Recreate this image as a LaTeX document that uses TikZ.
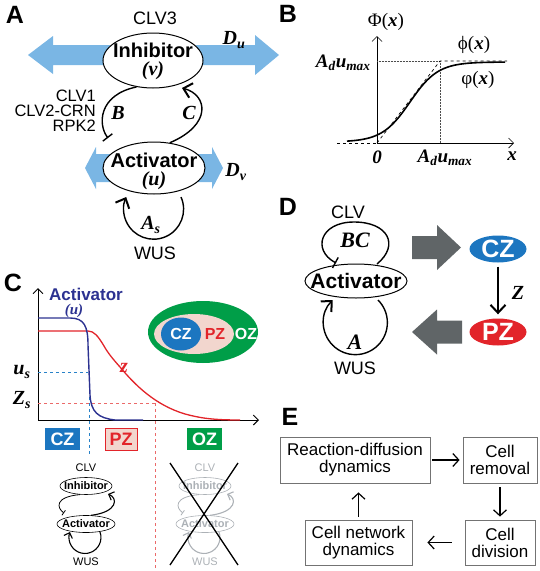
\documentclass[tikz,border=0pt]{standalone}
\usepackage{fontspec}
\setmainfont{Liberation Sans}
\newfontfamily\serif{Liberation Serif}
\usetikzlibrary{arrows.meta,shapes.geometric}
\definecolor{lblue}{RGB}{122,182,228}
\definecolor{czblue}{RGB}{28,118,192}
\definecolor{pzred}{RGB}{226,36,42}
\definecolor{ozgreen}{RGB}{0,158,72}
\definecolor{pzpink}{RGB}{242,214,206}
\definecolor{navy}{RGB}{44,50,145}
\definecolor{darkgray}{RGB}{96,101,103}
\definecolor{ghost}{RGB}{172,177,182}
\definecolor{dblue}{RGB}{40,130,200}
\definecolor{dred}{RGB}{235,105,105}
\newcommand{\fs}[1]{\fontsize{#1}{#1}\selectfont}
\newcommand{\vb}[1]{{\serif\bfseries\itshape #1}}
\newcommand{\minidiag}[3]{%
\begin{scope}[xshift=#2, color=#3]
\node[font=\fs{11}, text=#3] (#1clv) at (86,468) {CLV};
\node[mell, draw=#3, minimum width=52, minimum height=17] (#1inh) at (86,486) {};
\node[font=\fs{11}\bfseries, text=#3] (#1inhT) at (86,486) {Inhibitor};
\node[mell, draw=#3, minimum width=58, minimum height=17] (#1act) at (86,524) {};
\node[font=\fs{11}\bfseries, text=#3] (#1actT) at (86,524) {Activator};
\draw[draw=#3, line width=0.8, -{Bar[width=6pt]}] (#1inh.235) .. controls (54,497) and (57,508) .. (64,513);
\draw[draw=#3, line width=1.1, -{Straight Barb[length=4.5pt,width=9pt]}] (#1act.60) .. controls (118,512) and (118,498) .. (108,494);
\draw[draw=#3, line width=1.1, -{Straight Barb[length=4.5pt,width=9pt]}] (100,532) arc[start angle=-20, end angle=200, radius=16];
\node[font=\fs{11}, text=#3] (#1wus) at (86,562) {WUS};
\end{scope}}
\begin{document}
\begin{tikzpicture}[x=1pt,y=-1pt,
  ell/.style={ellipse, draw=black, fill=white, line width=1, inner sep=0},
  mell/.style={ellipse, fill=white, line width=0.6, inner sep=0},
  plabel/.style={font=\fs{25}\bfseries},
  arc/.style={line width=1.4},
  barb/.style={-{Straight Barb[length=8pt,width=15pt,line width=2pt]}},
  ebox/.style={draw=black!55, line width=0.8, minimum height=46, align=center, font=\fs{17}, inner sep=2},
  earrow/.style={line width=1.2, -{Straight Barb[length=6pt,width=13pt]}}
]
\useasboundingbox (0,0) rectangle (540,571);

% ================= Panel A =================
\node[plabel] (labA) at (15,15) {A};
\fill[lblue] (110,45) -- (53,45) -- (53,36) -- (28,55) -- (53,74) -- (53,65) -- (110,65) -- cycle;
\fill[lblue] (196,45) -- (255,45) -- (255,35) -- (279,55) -- (255,75) -- (255,65) -- (196,65) -- cycle;
\fill[lblue] (120,154) -- (96,154) -- (96,147) -- (85,168) -- (96,189) -- (96,182) -- (120,182) -- cycle;
\fill[lblue] (188,154) -- (212,154) -- (212,147) -- (223,168) -- (212,189) -- (212,182) -- (188,182) -- cycle;
\node[ell, minimum width=100, minimum height=55] (inh) at (153,60.5) {};
\node[font=\fs{20}\bfseries] (inhT) at (153,50) {Inhibitor};
\node[font=\fs{20}] (inhV) at (153,71) {\vb{(v)}};
\node[font=\fs{18}] (clv3) at (155,18) {CLV3};
\node[font=\fs{20}] (Du) at (234,40) {\vb{D\textsubscript{u}}};
\node[ell, minimum width=102, minimum height=52] (act) at (154,168) {};
\node[font=\fs{20}\bfseries] (actT) at (154,160) {Activator};
\node[font=\fs{20}] (actU) at (154,181) {\vb{(u)}};
\node[font=\fs{20}] (Dv) at (236,172) {\vb{D\textsubscript{v}}};
\node[font=\fs{16.5}, anchor=east, inner sep=1] (clv1) at (97,96) {CLV1};
\node[font=\fs{16.5}, anchor=east, inner sep=1] (clv2) at (97,111) {CLV2-CRN};
\node[font=\fs{16.5}, anchor=east, inner sep=1] (rpk2) at (97,126) {RPK2};
\draw[arc, -{Bar[width=12pt]}] (inh.238) .. controls (98,95) and (98,125) .. (108,138);
\node[font=\fs{20}] (Blab) at (118,113) {\vb{B}};
\draw[arc, barb] (act.58) .. controls (212,125) and (208,95) .. (182,88);
\node[font=\fs{20}] (Clab) at (189,113) {\vb{C}};
\draw[arc, barb] (181,197) arc[start angle=-24, end angle=204, radius=30];
\node[font=\fs{20}] (As) at (151,225) {\vb{A\textsubscript{s}}};
\node[font=\fs{18}] (wusA) at (155,253) {WUS};

% ================= Panel B =================
\node[plabel] (labB) at (288,14) {B};
\draw[line width=0.7, -{Straight Barb[length=5pt,width=10pt]}] (377,143) -- (377,36);
\draw[line width=0.7, -{Straight Barb[length=5pt,width=10pt]}] (377,143) -- (514,143);
\draw[line width=0.7, dashed] (337,143) -- (377,143);
\draw[line width=0.5, densely dotted, black!70] (377,61) -- (440,61) -- (440,143);
\draw[line width=0.7, dashed] (377,143) -- (440,61) -- (507,61);
\draw[line width=1.6] plot[domain=347:505, samples=60] (\x, {102-40*tanh((\x-410)/28)});
\node[font=\fs{19}] (Phi) at (386,22) {{\serif Φ(}\vb{x}{\serif)}};
\node[font=\fs{19}, anchor=east] (Adl) at (374,63) {\vb{A\textsubscript{d}u\textsubscript{max}}};
\node[font=\fs{19}] (phi1) at (474,45) {{\serif ϕ(}\vb{x}{\serif)}};
\node[font=\fs{19}] (phi2) at (478,80) {{\serif φ(}\vb{x}{\serif)}};
\node[font=\fs{19}] (zero) at (377,157) {\vb{0}};
\node[font=\fs{19}] (Adb) at (445,158) {\vb{A\textsubscript{d}u\textsubscript{max}}};
\node[font=\fs{19}] (xl) at (512,156) {\vb{x}};

% ================= Panel C =================
\node[plabel] (labC) at (13,283) {C};
\draw[line width=1, -{Straight Barb[length=5pt,width=10pt]}] (38,420) -- (38,288);
\draw[line width=1, -{Straight Barb[length=5pt,width=10pt]}] (38,420) -- (259,420);
\node[font=\fs{17}\bfseries, text=navy] (actC) at (86,294) {Activator};
\node[font=\fs{15}, text=navy] (actCu) at (74,311) {\vb{(u)}};
\draw[dblue, line width=0.9, dashed] (38,372) -- (88,372);
\draw[dblue, line width=0.9, dashed] (89,385) -- (89,454);
\draw[dred, line width=0.9, dashed] (38,403) -- (155,403);
\draw[dred, line width=0.9, dashed] (155,403) -- (155,571);
\draw[pzred, line width=1.3] (38,331) -- (88,331) .. controls (94,331) and (98,336) .. (104,346) .. controls (108,353) and (112,358) .. (120,367) .. controls (135,385) and (155,405) .. (185,414) .. controls (200,418) and (212,420) .. (240,420);
\draw[navy, line width=1.4] (38,318) -- (70,318) .. controls (84,318) and (88,326) .. (88,345) -- (90,395) .. controls (91,412) and (98,418) .. (115,420) -- (143,420);
\node[font=\fs{20}, text=pzred] (zl) at (124,368) {\vb{z}};
\node[font=\fs{20}] (us) at (22,372) {\vb{u\textsubscript{s}}};
\node[font=\fs{20}] (Zs) at (22,400) {\vb{Z\textsubscript{s}}};
\node[fill=czblue, text=white, font=\fs{18}\bfseries, minimum width=35, minimum height=22, inner sep=0] (czbox) at (62.5,439) {CZ};
\node[fill=pzpink, draw=pzred, line width=0.8, text=pzred, font=\fs{18}\bfseries, minimum width=32, minimum height=22, inner sep=0] (pzbox) at (121,439) {PZ};
\node[fill=ozgreen, text=white, font=\fs{18}\bfseries, minimum width=35, minimum height=22, inner sep=0] (ozbox) at (204.5,439) {OZ};
\node[ellipse, fill=ozgreen, minimum width=110, minimum height=62, inner sep=0] (ozell) at (203,332) {};
\node[ellipse, fill=pzpink, minimum width=80, minimum height=40, inner sep=0] (pzell) at (194,334) {};
\node[ellipse, fill=czblue, minimum width=40, minimum height=33, inner sep=0] (czell) at (181,334) {};
\node[font=\fs{16}\bfseries, text=white] (czt) at (181,334) {CZ};
\node[font=\fs{16}\bfseries, text=pzred] (pzt) at (215,334) {PZ};
\node[font=\fs{16}\bfseries, text=white] (ozt) at (246,334) {OZ};
\minidiag{m}{0}{black}
\minidiag{g}{119}{ghost}
\draw[line width=1.3] (170,463) -- (238,565);
\draw[line width=1.3] (238,463) -- (170,565);

% ================= Panel D =================
\node[plabel] (labD) at (288,207) {D};
\node[font=\fs{18}] (clvD) at (348,212) {CLV};
\node[ell, minimum width=102, minimum height=34] (actD) at (356,281) {};
\node[font=\fs{21}\bfseries] (actDT) at (356,281) {Activator};
\draw[arc, -{Bar[width=12pt]}] (377,264) .. controls (400,245) and (388,222) .. (354,222) .. controls (320,222) and (312,250) .. (336,263);
\node[font=\fs{22}] (BC) at (355,240) {\vb{BC}};
\draw[arc, barb] (378,300) arc[start angle=-45, end angle=225, radius=32];
\node[font=\fs{22}] (AD) at (355,342) {\vb{A}};
\node[font=\fs{18}] (wusD) at (355,368) {WUS};
\fill[darkgray] (412,236) -- (437,236) -- (437,225) -- (461,247.5) -- (437,270) -- (437,259) -- (412,259) -- cycle;
\fill[darkgray] (462,320.5) -- (437,320.5) -- (437,309.5) -- (412,332) -- (437,354.5) -- (437,343.5) -- (462,343.5) -- cycle;
\node[ellipse, fill=czblue, text=white, font=\fs{25}\bfseries, minimum width=57, minimum height=27, inner sep=0] (czD) at (498,249) {CZ};
\node[ellipse, fill=pzred, text=white, font=\fs{25}\bfseries, minimum width=57, minimum height=27, inner sep=0] (pzD) at (498,332) {PZ};
\draw[arc, barb, shorten <=4pt, shorten >=4pt] (czD) -- (pzD);
\node[font=\fs{20}] (Zl) at (518,293) {\vb{Z}};

% ================= Panel E =================
\node[plabel] (labE) at (290,417) {E};
\node[ebox, minimum width=150] (b1) at (355,460) {Reaction-diffusion\\dynamics};
\node[ebox, minimum width=74] (b2) at (500,460) {Cell\\removal};
\node[ebox, minimum width=70, minimum height=45] (b3) at (500,542.5) {Cell\\division};
\node[ebox, minimum width=107, minimum height=45] (b4) at (358.5,542.5) {Cell network\\dynamics};
\draw[earrow, shorten <=2pt, shorten >=3pt] (b1) -- (b2);
\draw[earrow, shorten <=4pt, shorten >=3pt] (b2) -- (b3);
\draw[earrow, shorten <=13pt, shorten >=15pt] (b3) -- (b4);
\draw[earrow, shorten <=3pt, shorten >=9pt] (b4.north) -- (b4.north |- b1.south);
\end{tikzpicture}
\end{document}
